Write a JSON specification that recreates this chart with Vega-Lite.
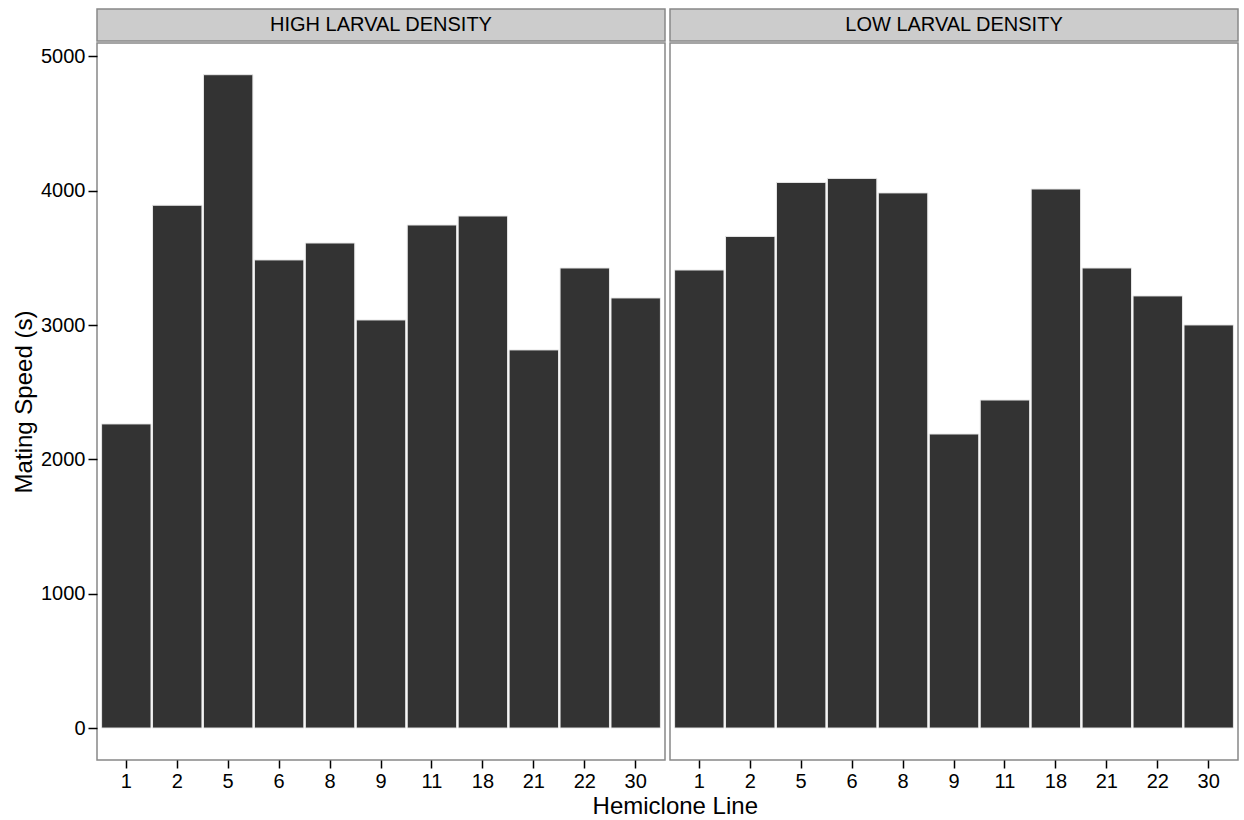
{
  "$schema": "https://vega.github.io/schema/vega-lite/v6.json",
  "background": "white",
  "padding": {"left": 11, "top": 8, "right": 5, "bottom": 0},
  "datasets": {
    "bars": [
      {"density": "HIGH LARVAL DENSITY", "line": "1", "speed": 2264},
      {"density": "HIGH LARVAL DENSITY", "line": "2", "speed": 3892},
      {"density": "HIGH LARVAL DENSITY", "line": "5", "speed": 4864},
      {"density": "HIGH LARVAL DENSITY", "line": "6", "speed": 3485},
      {"density": "HIGH LARVAL DENSITY", "line": "8", "speed": 3611},
      {"density": "HIGH LARVAL DENSITY", "line": "9", "speed": 3038},
      {"density": "HIGH LARVAL DENSITY", "line": "11", "speed": 3745},
      {"density": "HIGH LARVAL DENSITY", "line": "18", "speed": 3812},
      {"density": "HIGH LARVAL DENSITY", "line": "21", "speed": 2815},
      {"density": "HIGH LARVAL DENSITY", "line": "22", "speed": 3425},
      {"density": "HIGH LARVAL DENSITY", "line": "30", "speed": 3202},
      {"density": "LOW LARVAL DENSITY", "line": "1", "speed": 3410},
      {"density": "LOW LARVAL DENSITY", "line": "2", "speed": 3660},
      {"density": "LOW LARVAL DENSITY", "line": "5", "speed": 4062},
      {"density": "LOW LARVAL DENSITY", "line": "6", "speed": 4092},
      {"density": "LOW LARVAL DENSITY", "line": "8", "speed": 3984},
      {"density": "LOW LARVAL DENSITY", "line": "9", "speed": 2189},
      {"density": "LOW LARVAL DENSITY", "line": "11", "speed": 2442},
      {"density": "LOW LARVAL DENSITY", "line": "18", "speed": 4013},
      {"density": "LOW LARVAL DENSITY", "line": "21", "speed": 3425},
      {"density": "LOW LARVAL DENSITY", "line": "22", "speed": 3217},
      {"density": "LOW LARVAL DENSITY", "line": "30", "speed": 3001}
    ]
  },
  "title": {
    "text": "Hemiclone Line",
    "orient": "bottom",
    "anchor": "middle",
    "fontSize": 24,
    "fontWeight": "normal",
    "font": "Liberation Sans",
    "color": "black",
    "offset": 3,
    "dx": 50
  },
  "spacing": 3,
  "hconcat": [
    {
      "spacing": 0,
      "vconcat": [
        {
          "width": 568,
          "height": 32,
          "view": {"fill": "#cccccc", "stroke": "#888888", "strokeWidth": 1.5},
          "data": {"values": [{"label": "HIGH LARVAL DENSITY"}]},
          "mark": {"type": "text", "fontSize": 20, "font": "Liberation Sans", "color": "black"},
          "encoding": {"text": {"field": "label"}}
        },
        {
          "width": 568,
          "height": 717,
          "data": {"name": "bars"},
          "transform": [{"filter": "datum.density === 'HIGH LARVAL DENSITY'"}],
          "mark": {"type": "bar", "color": "#333333", "stroke": "#e8e8e8", "strokeWidth": 1},
          "encoding": {
            "x": {
              "field": "line", "type": "ordinal",
              "sort": ["1", "2", "5", "6", "8", "9", "11", "18", "21", "22", "30"],
              "scale": {"paddingInner": 0.03, "paddingOuter": 0.09},
              "axis": {"title": null, "labelAngle": 0}
            },
            "y": {
              "field": "speed", "type": "quantitative",
              "scale": {"domain": [-238, 5100], "nice": false, "zero": false},
              "axis": {"title": "Mating Speed (s)", "values": [0, 1000, 2000, 3000, 4000, 5000], "format": "d"}
            }
          }
        }
      ]
    },
    {
      "spacing": 0,
      "vconcat": [
        {
          "width": 568,
          "height": 32,
          "view": {"fill": "#cccccc", "stroke": "#888888", "strokeWidth": 1.5},
          "data": {"values": [{"label": "LOW LARVAL DENSITY"}]},
          "mark": {"type": "text", "fontSize": 20, "font": "Liberation Sans", "color": "black"},
          "encoding": {"text": {"field": "label"}}
        },
        {
          "width": 568,
          "height": 717,
          "data": {"name": "bars"},
          "transform": [{"filter": "datum.density === 'LOW LARVAL DENSITY'"}],
          "mark": {"type": "bar", "color": "#333333", "stroke": "#e8e8e8", "strokeWidth": 1},
          "encoding": {
            "x": {
              "field": "line", "type": "ordinal",
              "sort": ["1", "2", "5", "6", "8", "9", "11", "18", "21", "22", "30"],
              "scale": {"paddingInner": 0.03, "paddingOuter": 0.09},
              "axis": {"title": null, "labelAngle": 0}
            },
            "y": {
              "field": "speed", "type": "quantitative",
              "scale": {"domain": [-238, 5100], "nice": false, "zero": false},
              "axis": null
            }
          }
        }
      ]
    }
  ],
  "config": {
    "font": "Liberation Sans",
    "view": {"stroke": "#888888", "strokeWidth": 1.5},
    "axis": {
      "grid": false,
      "domain": false,
      "ticks": true,
      "tickColor": "black",
      "tickSize": 9,
      "tickWidth": 1.5,
      "labelFont": "Liberation Sans",
      "labelFontSize": 20,
      "labelColor": "black",
      "labelPadding": 3,
      "titleFont": "Liberation Sans",
      "titleFontSize": 24,
      "titleFontWeight": "normal",
      "titleColor": "black"
    },
    "axisX": {"offset": 0, "tickSize": 8, "labelPadding": 3},
    "axisY": {"offset": 0, "titlePadding": 4}
  }
}
